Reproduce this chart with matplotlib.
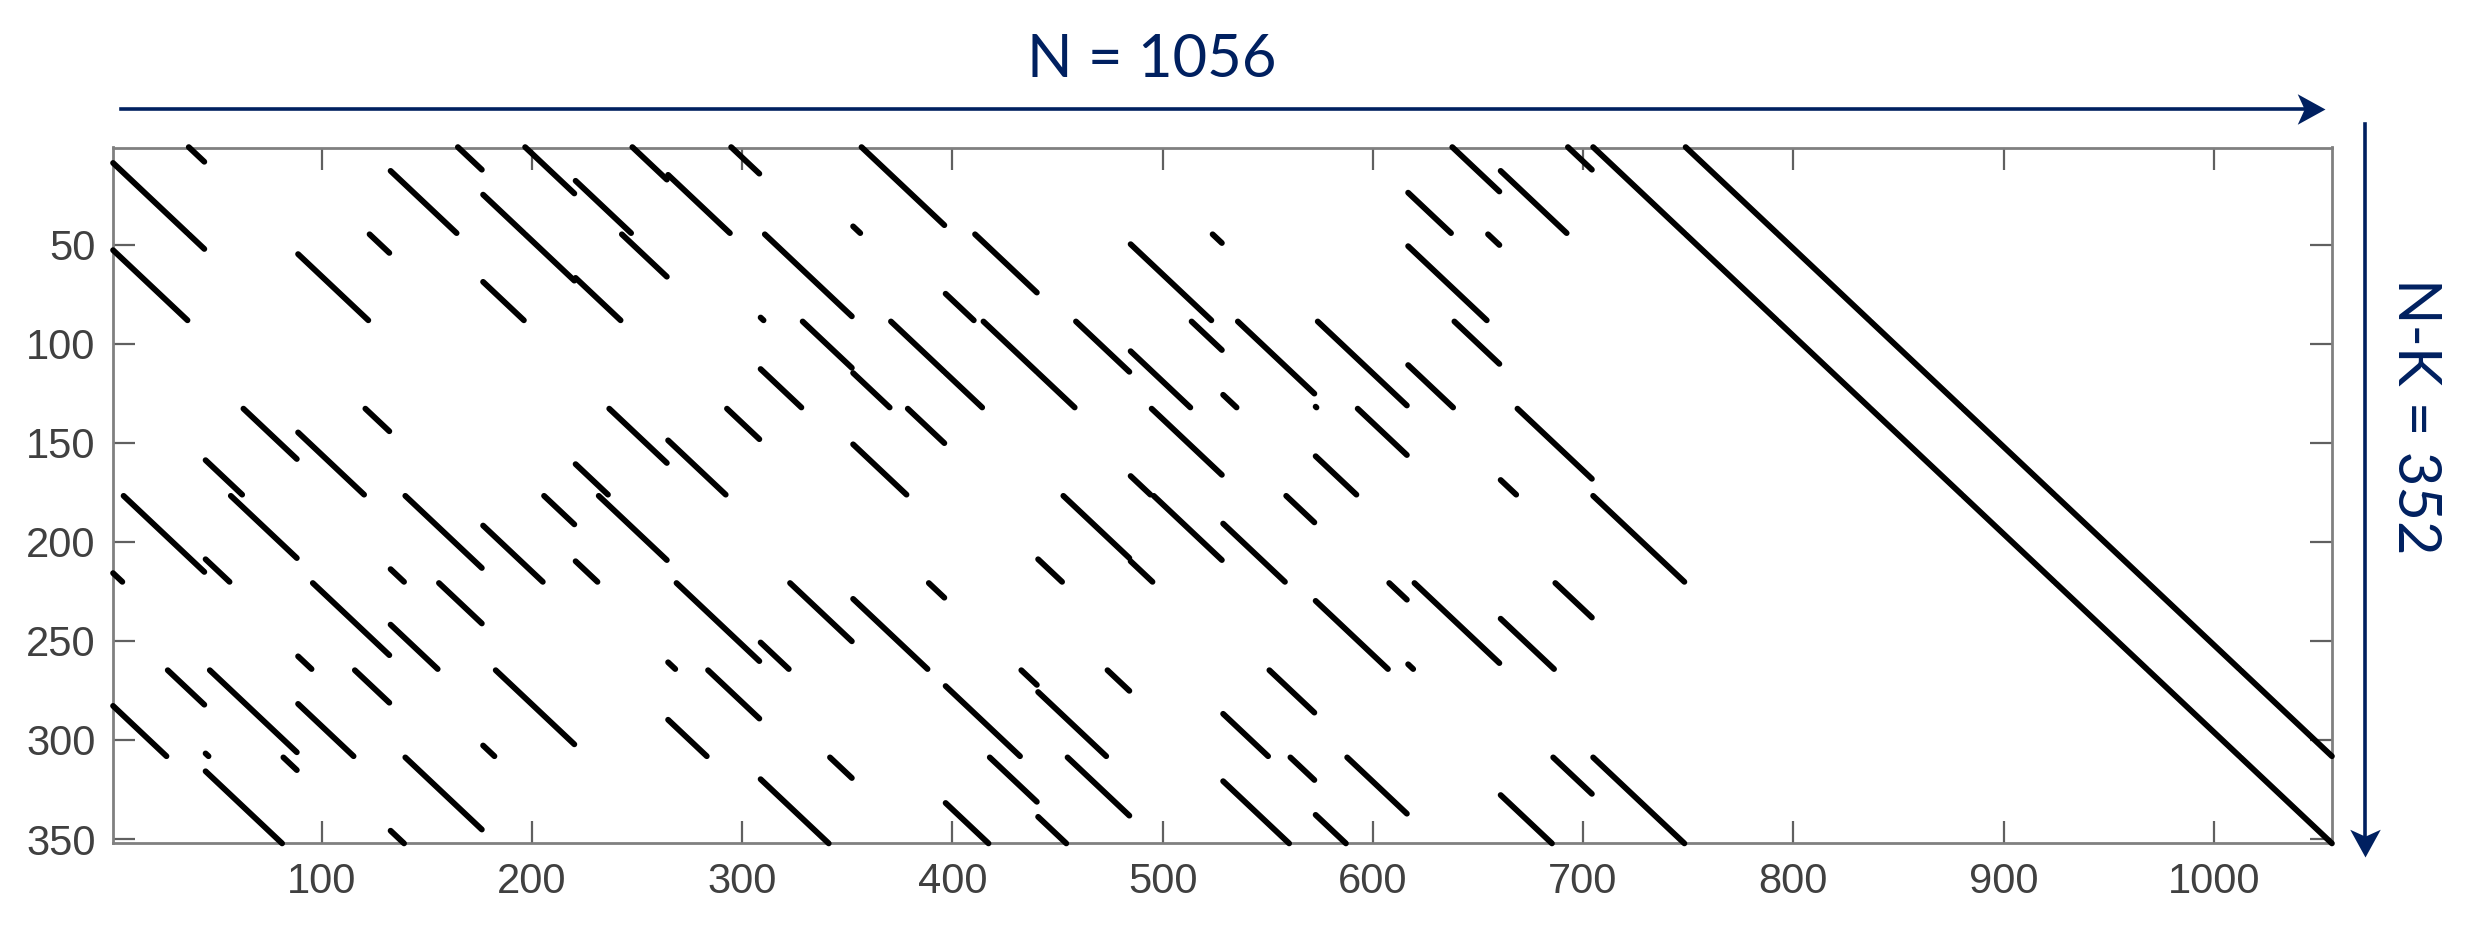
import matplotlib
matplotlib.use('Agg')
import matplotlib.pyplot as plt
from matplotlib.lines import Line2D
from matplotlib.path import Path
from matplotlib.transforms import IdentityTransform

# diagonal runs of the parity check matrix, one list per block row: (first col, first row, length)
rows_1_44 = [(37,1,8),(1,9,36),(165,1,12),(133,13,32),(197,1,24),(177,25,20),(248,1,17),(221,18,27),
             (295,1,14),(265,15,30),(357,1,40),(353,41,4),(638,1,23),(617,24,21),(693,1,12),(661,13,32),
             (705,1,44),(749,1,44)]
rows_45_88 = [(37,45,8),(1,53,36),(123,45,10),(89,55,34),(197,45,24),(177,69,20),(243,45,22),(221,67,22),
              (311,45,42),(309,87,2),(411,45,30),(397,75,14),(524,45,5),(485,50,39),(655,45,6),(617,51,38),
              (749,45,44),(793,45,44)]
rows_89_132 = [(329,89,24),(309,113,20),(371,89,26),(353,115,18),(415,89,26),(397,115,18),(459,89,26),(441,115,18),
               (514,89,15),(485,104,29),(536,89,37),(529,126,7),(574,89,43),(573,132,1),(639,89,22),(617,111,22),
               (793,89,44),(837,89,44)]
rows_133_176 = [(63,133,26),(45,159,18),(121,133,12),(89,145,32),(237,133,28),(221,161,16),(293,133,16),(265,149,28),
                (379,133,18),(353,151,26),(495,133,34),(485,167,10),(593,133,24),(573,157,20),(669,133,36),(661,169,8),
                (837,133,44),(881,133,44)]
rows_177_220 = [(6,177,39),(1,216,5),(57,177,32),(45,209,12),(140,177,37),(133,214,7),(206,177,15),(177,192,29),
                (232,177,33),(221,210,11),(453,177,32),(441,209,12),(496,177,33),(485,210,11),(559,177,14),(529,191,30),
                (705,177,44),(881,177,44),(925,177,44)]
rows_221_264 = [(96,221,37),(89,258,7),(156,221,21),(133,242,23),(269,221,40),(265,261,4),(323,221,30),(309,251,14),
                (389,221,8),(353,229,36),(608,221,9),(573,230,35),(620,221,41),(617,262,3),(687,221,18),(661,239,26),
                (925,221,44),(969,221,44)]
rows_265_308 = [(27,265,18),(1,283,26),(47,265,42),(45,307,2),(116,265,17),(89,282,27),(183,265,38),(177,303,6),
                (284,265,25),(265,290,19),(433,265,8),(397,273,36),(474,265,11),(441,276,33),(551,265,22),(529,287,22),
                (969,265,44),(1013,265,44)]
rows_309_352 = [(82,309,7),(45,316,37),(140,309,37),(133,346,7),(342,309,11),(309,320,33),(418,309,23),(397,332,21),
                (455,309,30),(441,339,14),(561,309,12),(529,321,32),(588,309,29),(573,338,15),(686,309,19),(661,328,25),
                (705,309,44),(1013,309,44)]

x_ticks = [100, 200, 300, 400, 500, 600, 700, 800, 900, 1000]
y_ticks = [50, 100, 150, 200, 250, 300, 350]
n_cols = 1056
n_rows = 352
width_title = 'N = 1056'
height_title = 'N-K = 352'

navy = '#002060'
W, H = 2475, 927

plt.rcParams['font.family'] = ['Liberation Sans', 'DejaVu Sans']

fig = plt.figure(figsize=(W / 100, H / 100), dpi=100)
ax = fig.add_axes([113.5 / W, 1 - 843 / H, (2331.5 - 113.5) / W, (843 - 147.5) / H])

blocks = [rows_1_44, rows_45_88, rows_89_132, rows_133_176,
          rows_177_220, rows_221_264, rows_265_308, rows_309_352]
for block in blocks:
    for col, row, length in block:
        ax.plot([col - 0.2, col + length - 0.8], [row - 0.2, row + length - 0.8], color='black', lw=4.2,
                solid_capstyle='round', clip_on=False, zorder=3)

ax.set_xlim(1, n_cols)
ax.set_ylim(n_rows, 1)
ax.set_xticks(x_ticks)
ax.set_yticks(y_ticks)
ax.tick_params(direction='in', length=16, width=1.6, color='#606060', labelcolor='#404040',
               labelsize=30, top=True, right=True, pad=14)
ax.tick_params(axis='y', pad=13)
for spine in ax.spines.values():
    spine.set_color('#808080')
    spine.set_linewidth(2.0)

# arrows around the matrix, in pixels; the head is a notched marker with its tip at the origin
head_right = Path([(0, 0), (-1, 0.55), (-0.75, 0), (-1, -0.55), (0, 0)], closed=True)
head_down = Path([(0, 0), (0.55, 1), (0, 0.75), (-0.55, 1), (0, 0)], closed=True)
px = IdentityTransform()
fig.add_artist(Line2D([121, 2305], [H - 109, H - 109], color=navy, lw=2.6, transform=px))
fig.add_artist(Line2D([2325], [H - 109], marker=head_right, ms=40, mew=0, color=navy, transform=px))
fig.add_artist(Line2D([2364.5, 2364.5], [H - 124, H - 837], color=navy, lw=2.6, transform=px))
fig.add_artist(Line2D([2364.5], [H - 857], marker=head_down, ms=40, mew=0, color=navy, transform=px))

fig.text(1152 / W, 1 - 60 / H, width_title, color=navy, fontsize=43, family='Lato', ha='center', va='center')
fig.text(2415 / W, 1 - 416 / H, height_title, color=navy, fontsize=43, family='Lato', ha='center', va='center',
         rotation=270)

fig.savefig('out.png', dpi=100)
